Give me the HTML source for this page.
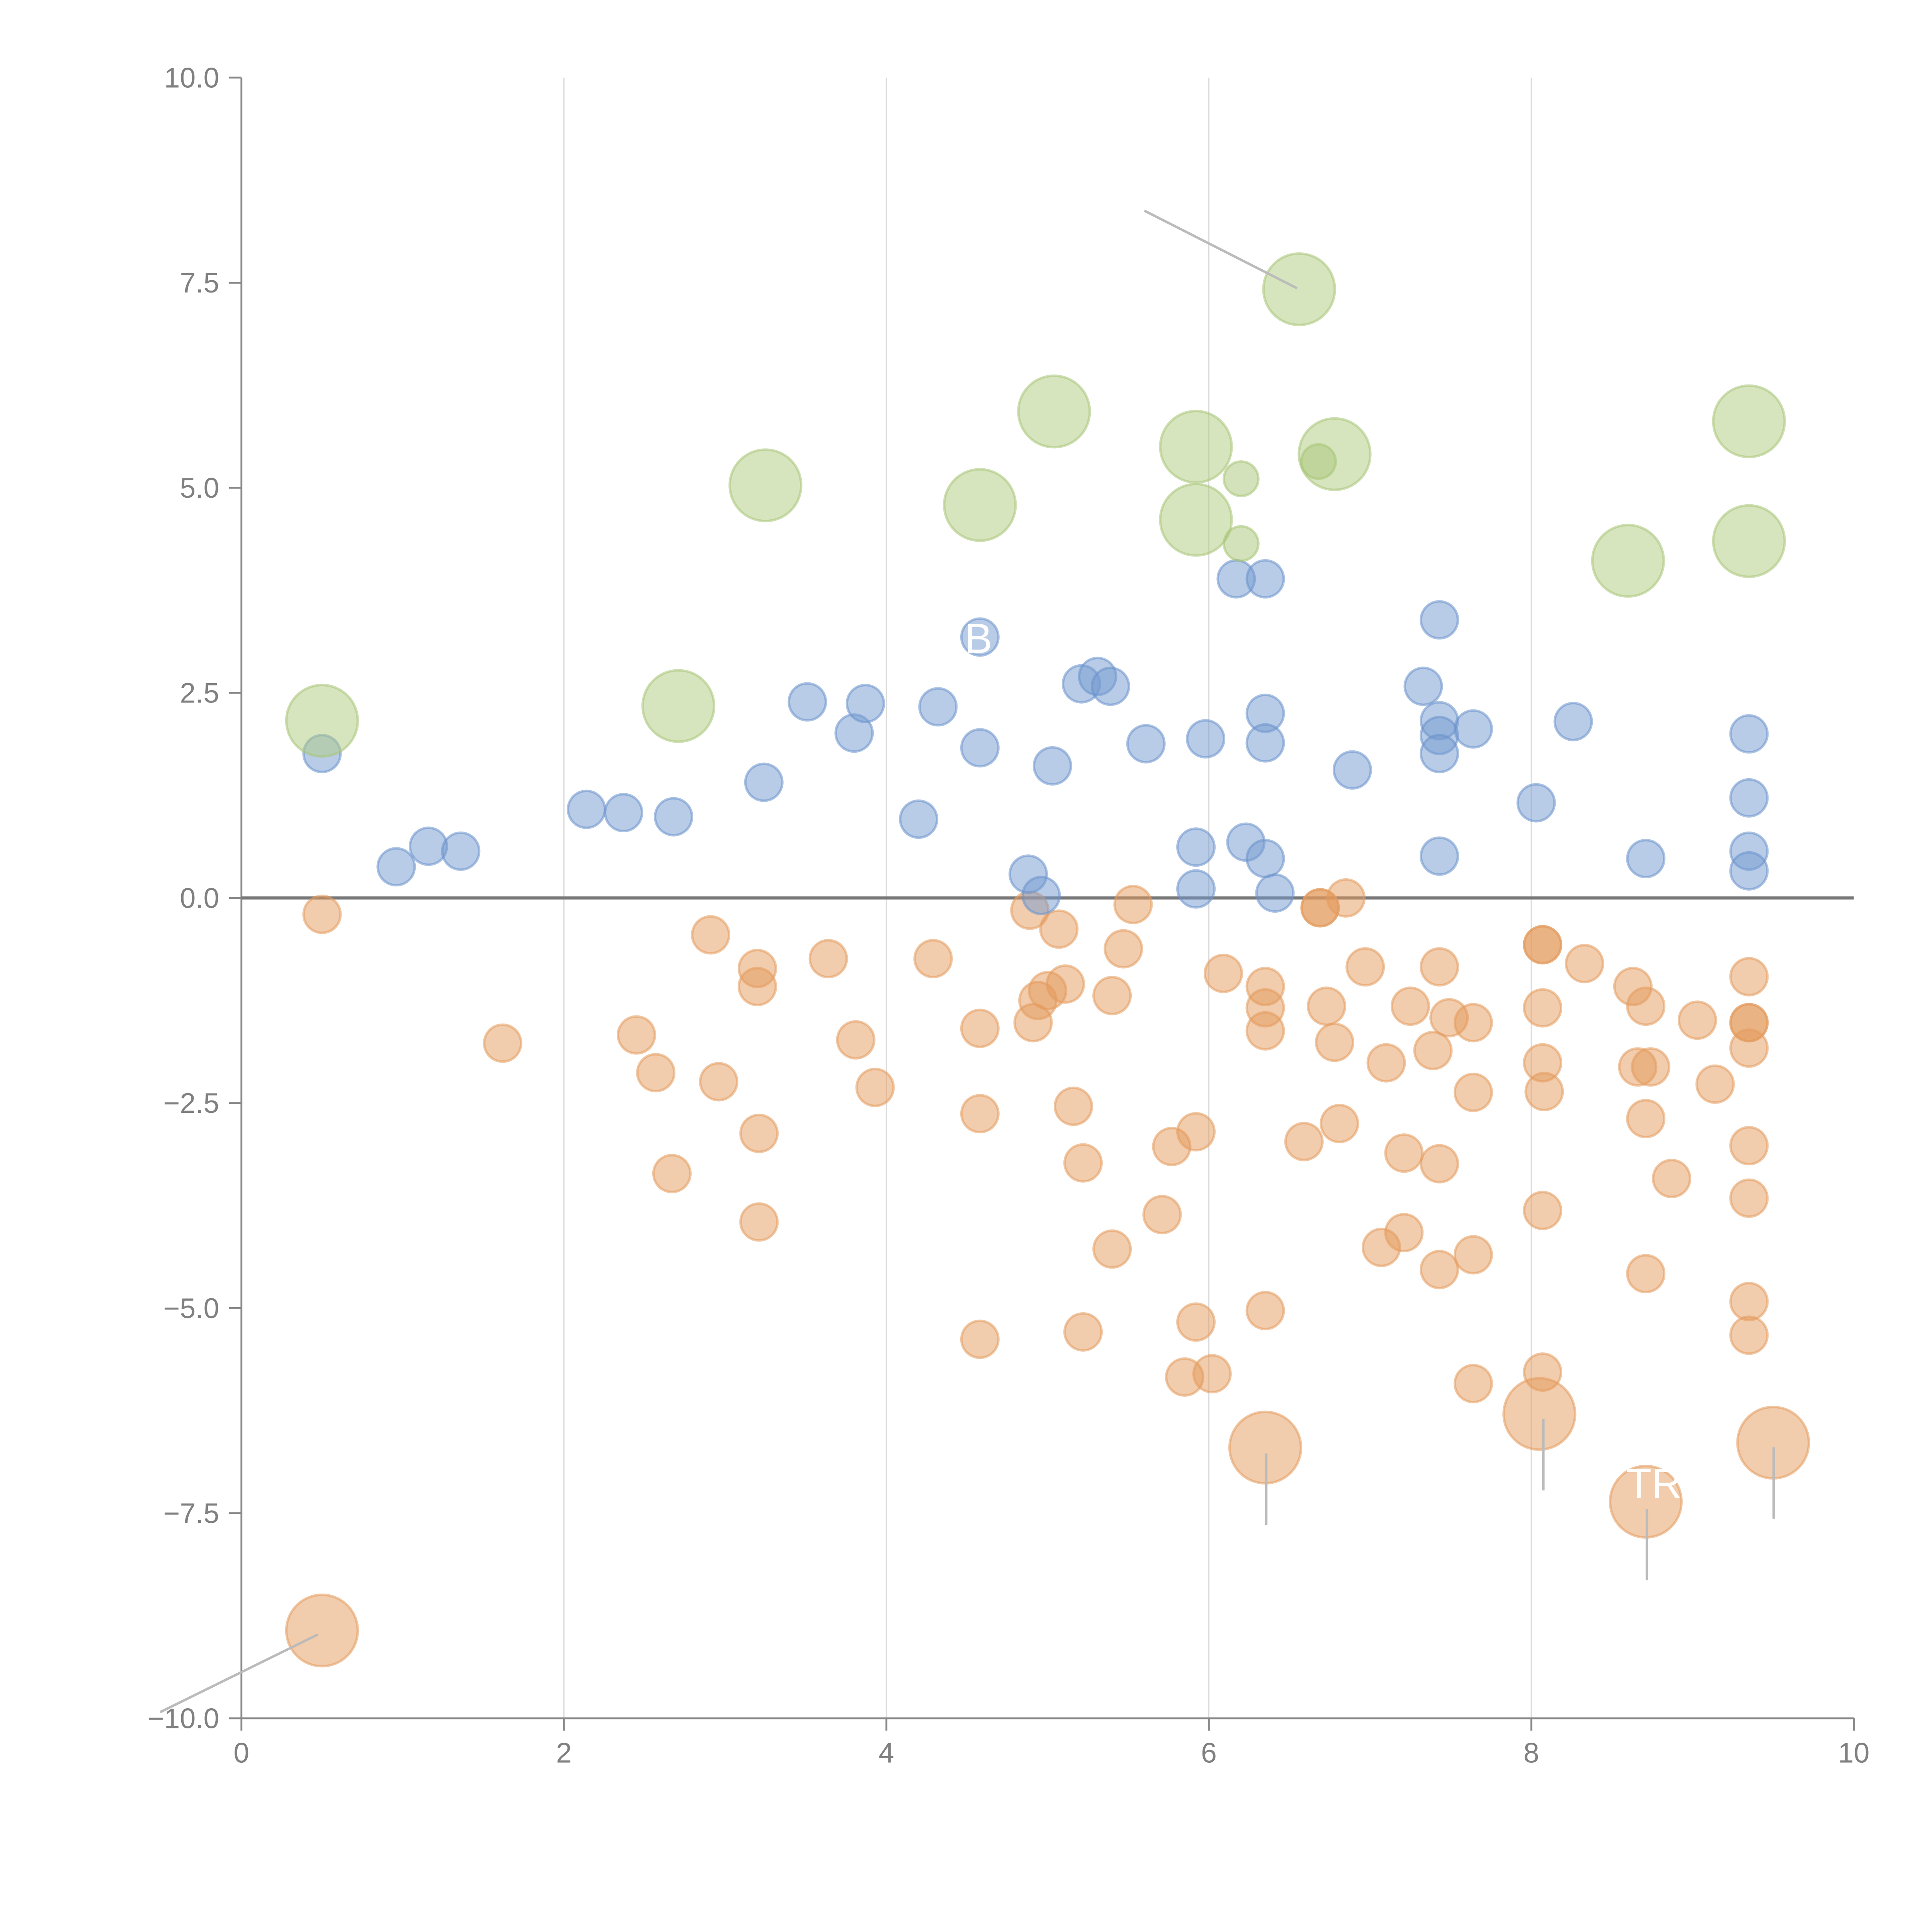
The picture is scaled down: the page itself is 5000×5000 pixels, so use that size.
<!DOCTYPE html>
<html><head><meta charset="utf-8"><style>
html,body{margin:0;padding:0;background:#fff;}
svg{display:block;}
text{font-family:"Liberation Sans",sans-serif;}
</style></head><body>
<svg id="chart" xmlns="http://www.w3.org/2000/svg" width="5000" height="5000" viewBox="0 0 1568.5 1568.5">
<g id="grid"></g>
<g id="axes"></g>
<g id="marks"></g>
<g id="annot"></g>
</svg>
<script>
const xTicks = [0, 2, 4, 6, 8, 10];
const yTicks = [10, 7.5, 5, 2.5, 0, -2.5, -5, -7.5, -10];
const yTickLabels = ["10.0", "7.5", "5.0", "2.5", "0.0", "\u22122.5", "\u22125.0", "\u22127.5", "\u221210.0"];
const blueX = [0.50,0.96,1.16,1.36,2.14,2.37,2.68,3.24,3.51,3.80,3.87,4.20,4.32,4.58,4.58,4.88,4.96,5.03,5.21,5.31,5.39,5.61,5.92,5.92,5.98,6.17,6.23,6.35,6.35,6.35,6.35,6.41,6.89,7.33,7.43,7.43,7.43,7.43,7.43,7.64,8.03,8.26,8.71,9.35,9.35,9.35,9.35];
const blueY = [1.76,0.38,0.63,0.57,1.08,1.04,0.99,1.41,2.39,2.01,2.37,0.96,2.33,3.18,1.83,0.29,0.03,1.61,2.61,2.70,2.58,1.88,0.62,0.11,1.94,3.89,0.68,3.89,2.25,1.89,0.48,0.06,1.56,2.58,3.39,2.16,1.98,1.76,0.51,2.06,1.16,2.15,0.48,2.00,1.22,0.57,0.33];
const greenBigX = [0.50,2.71,3.25,4.58,5.04,5.92,5.92,6.56,6.78,8.60,9.35,9.35];
const greenBigY = [2.16,2.34,5.03,4.79,5.93,5.50,4.61,7.42,5.41,4.11,5.81,4.35];
const greenSmallX = [6.20,6.20,6.68];
const greenSmallY = [5.11,4.32,5.32];
const orangeBigX = [0.50,6.35,8.05,8.71,9.50];
const orangeBigY = [-8.93,-6.70,-6.29,-7.36,-6.64];
const orangeX = [0.50,1.62,2.45,2.57,2.67,2.91,2.96,3.20,3.20,3.21,3.21,3.64,3.81,3.93,4.29,4.58,4.58,4.58,4.89,4.91,4.94,5.00,5.07,5.11,5.16,5.22,5.22,5.40,5.40,5.47,5.53,5.71,5.77,5.85,5.92,5.92,6.02,6.09,6.35,6.35,6.35,6.35,6.59,6.69,6.73,6.78,6.81,6.85,6.97,7.10,7.07,7.21,7.21,7.25,7.39,7.43,7.43,7.43,7.49,7.64,7.64,7.64,7.64,8.07,8.07,8.07,8.07,8.08,8.07,8.07,8.33,8.63,8.71,8.66,8.74,8.71,8.71,8.87,9.03,9.14,9.35,9.35,9.35,9.35,9.35,9.35,9.35,9.35,6.69];
const orangeY = [-0.20,-1.77,-1.67,-2.13,-3.36,-0.45,-2.24,-0.86,-1.08,-2.87,-3.95,-0.74,-1.73,-2.31,-0.74,-1.59,-2.63,-5.38,-0.15,-1.52,-1.25,-1.13,-0.38,-1.05,-2.54,-3.23,-5.29,-1.19,-4.28,-0.62,-0.08,-3.86,-3.03,-5.84,-2.85,-5.17,-5.80,-0.92,-1.08,-1.34,-1.62,-5.03,-2.97,-0.12,-1.32,-1.76,-2.75,0.00,-0.84,-2.01,-4.26,-3.11,-4.08,-1.32,-1.86,-0.84,-3.24,-4.53,-1.46,-1.52,-2.37,-4.35,-5.92,-0.57,-0.57,-1.34,-2.01,-2.36,-3.81,-5.78,-0.80,-1.08,-1.32,-2.06,-2.06,-2.69,-4.58,-3.42,-1.49,-2.27,-0.96,-1.52,-1.52,-1.83,-3.02,-3.66,-4.92,-5.33,-0.12];

const X0=196, X1=1505, Y0=1395, Y1=63;
const sx = v => X0 + (v-0)/(10-0)*(X1-X0);
const sy = v => Y0 - (v+10)/20*(Y0-Y1);
const NS="http://www.w3.org/2000/svg";
function mk(tag, parent, attrs){const e=document.createElementNS(NS,tag);for(const k in attrs)e.setAttribute(k,attrs[k]);parent.appendChild(e);return e;}
const grid=document.getElementById('grid'), axes=document.getElementById('axes'), marks=document.getElementById('marks'), annot=document.getElementById('annot');

xTicks.forEach(t=>{
  if(t>0&&t<10){const g=mk('line',grid,{x1:sx(t),x2:sx(t),y1:Y1,y2:Y0,stroke:'#dcdcdc','stroke-width':1});
  
  }
  const tk=mk('line',axes,{x1:sx(t),x2:sx(t),y1:Y0,y2:Y0+10,stroke:'#888','stroke-width':1.5});
  
  
  const lb=mk('text',axes,{x:sx(t),y:Y0+36,'text-anchor':'middle','font-size':23,fill:'#808080'});
  lb.textContent=t;
  
  
});
yTicks.forEach((t,i)=>{
  const tk=mk('line',axes,{x1:X0-10,x2:X0,y1:sy(t),y2:sy(t),stroke:'#888','stroke-width':1.5});
  
  
  const lb=mk('text',axes,{x:X0-18,y:sy(t)+8,'text-anchor':'end','font-size':23,fill:'#808080'});
  lb.textContent=yTickLabels[i];
  
  
});
const ya=mk('line',axes,{x1:X0,x2:X0,y1:Y1,y2:Y0,stroke:'#888','stroke-width':1.5});


const xa=mk('line',axes,{x1:X0,x2:X1,y1:Y0,y2:Y0,stroke:'#888','stroke-width':1.5});


const zl=mk('line',axes,{x1:X0,x2:X1,y1:sy(0),y2:sy(0),stroke:'#777','stroke-width':2.5});



function series(xs, ys, r, fill, stroke, name){
  xs.forEach((v,i)=>{
    const c=mk('circle',marks,{cx:sx(v),cy:sy(ys[i]),r:r,fill:fill,'fill-opacity':0.5,stroke:stroke,'stroke-opacity':0.55,'stroke-width':2});
    
    
  });
}
series(orangeX, orangeY, 15, '#e39a5c', '#e39a5c', 'orange-point');
series(orangeBigX, orangeBigY, 29, '#e39a5c', '#e39a5c', 'orange-large-point');
series(blueX, blueY, 15, '#7399cf', '#6a92cc', 'blue-point');
series(greenBigX, greenBigY, 29, '#b0cb80', '#a8c577', 'green-large-point');
series(greenSmallX, greenSmallY, 14, '#a8c577', '#a8c577', 'green-small-point');

const leaders=[[929,171,1053,234],[258,1327,130,1390],[1028,1180,1028,1238],[1253,1152,1253,1210],[1337,1225,1337,1283],[1440,1175,1440,1233]];
leaders.forEach(l=>{
  const e=mk('line',annot,{x1:l[0],y1:l[1],x2:l[2],y2:l[3],stroke:'#bbb','stroke-width':2});
  
  
});
const t1=mk('text',annot,{x:783,y:530,'font-size':34,fill:'#fff'}); t1.textContent='B';


const t2=mk('text',annot,{x:1320,y:1216,'font-size':34,fill:'#fff'}); t2.textContent='TR';


</script>
</body></html>
